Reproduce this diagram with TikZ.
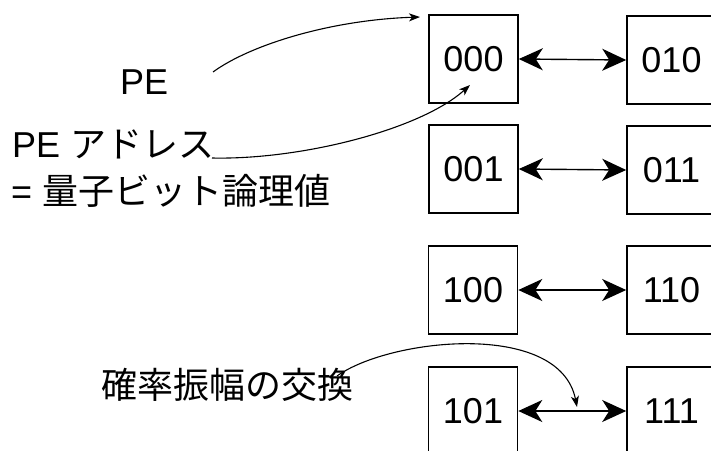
\documentclass[tikz,border=0pt]{standalone}
\usepackage{fontspec}
\setmainfont{Liberation Sans}
\newfontfamily\jp{Noto Sans CJK JP}
\usetikzlibrary{arrows.meta}
\begin{document}
\begin{tikzpicture}[x=1pt,y=-1pt,
  pebox/.style={draw,line width=1.6pt,minimum width=89pt,minimum height=88pt,inner sep=0pt,
     font=\fontsize{36}{40}\selectfont},
  lbl/.style={anchor=base west,inner sep=0pt,font=\fontsize{36}{40}\selectfont},
  swap/.style={line width=1.4pt,{Stealth[length=24pt,width=22pt,inset=7pt]}-{Stealth[length=24pt,width=22pt,inset=7pt]}},
  pointer/.style={line width=1.1pt,-{Stealth[length=11pt,width=8pt,inset=3pt]}}]
\useasboundingbox (0,0) rectangle (711,450);
\clip (0,0) rectangle (711,450);
\fill[white] (0,0) rectangle (711,450);
% boxes
\node[pebox] (b000) at (473.5,59) {000};
\node[pebox] (b010) at (671.5,60) {010};
\node[pebox] (b001) at (473.5,169) {001};
\node[pebox] (b011) at (671.5,170) {011};
\node[pebox] (b100) at (473,290) {100};
\node[pebox] (b110) at (671.5,290) {110};
\node[pebox] (b101) at (473,411) {101};
\node[pebox] (b111) at (671.5,411) {111};
% swaps
\draw[swap] (b000.east) -- (b010.west);
\draw[swap] (b001.east) -- (b011.west);
\draw[swap] (b100.east) -- (b110.west);
\draw[swap] (b101.east) -- (b111.west);
% labels
\node[lbl] (pe) at (120,94) {PE};
\node[lbl] (addr) at (12,157) {PE {\jp アドレス}};
\node[lbl] (qbit) at (11,204) {= {\jp 量子ビット論理値}};
\node[lbl] (xchg) at (101,398) {\jp 確率振幅の交換};
% pointer ends
\coordinate (peS) at (213,72);
\coordinate (peT) at (420,17);
\coordinate (adS) at (212,158);
\coordinate (adT) at (470,85);
\coordinate (xS) at (337,376);
\coordinate (xT) at (577,407);
\draw[pointer] (peS) .. controls (250,45) and (330,20) .. (peT);
\draw[pointer] (adS) .. controls (300,160) and (420,130) .. (adT);
\draw[pointer] (xS) .. controls (390,338) and (560,320) .. (xT);
\end{tikzpicture}
\end{document}
